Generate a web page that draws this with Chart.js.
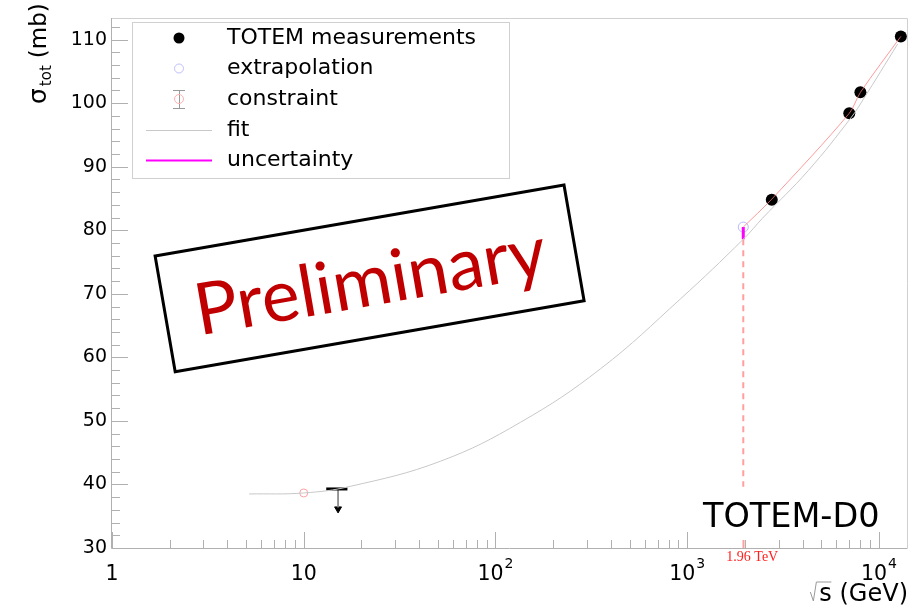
<!DOCTYPE html>
<html>
<head>
<meta charset="utf-8">
<script src="https://cdn.jsdelivr.net/npm/chart.js@4.4.0/dist/chart.umd.min.js"></script>
<style>
html,body{margin:0;padding:0;background:#fff}
</style>
</head>
<body>
<canvas id="chart" width="914" height="606"></canvas>
<script>
// values (sqrt(s) in GeV, sigma_tot in mb)
var totemEnergy = [2760, 7000, 8000, 13000];
var totemSigma = [84.8, 98.4, 101.7, 110.5];

var extrapEnergy = [1960];
var extrapSigma = [80.5];
var uncertLow = [78.6];
var dashLow = [39.65];

var constraintEnergy = [10];
var constraintSigma = [38.66];

var limitEnergy = [13.1, 16.9];
var limitSigma = [39.29, 39.29];
var arrowEnergy = [15.1, 15.1];
var arrowSigma = [39.29, 36.4];
var arrowHead = [36.15];

var fitEnergy = [5.19, 10, 17.5, 51.6, 135, 353, 925, 1966, 2470, 4284, 7184, 8302, 12524];
var fitSigma = [38.50, 38.66, 39.70, 43.65, 49.78, 58.2, 69.24, 78.62, 81.9, 89.41, 97.8, 100.65, 109.32];

var bandEnergy = [1960, 2760, 7000, 8000, 13000];
var bandSigma = [80.5, 84.9, 98.4, 101.7, 110.5];

var xTicks = [1, 10, 100, 1000, 10000];
var xTickBase = ['1', '10', '10', '10', '10'];
var xTickExp = ['', '', '2', '3', '4'];
var yTicks = [30, 40, 50, 60, 70, 80, 90, 100, 110];

var legendLabels = ['TOTEM measurements', 'extrapolation', 'constraint', 'fit', 'uncertainty'];

function pts(xs, ys) {
    return xs.map(function (x, i) { return {x: x, y: ys[i]}; });
}

var sansFont = "'DejaVu Sans', sans-serif";

// frame, ticks inside the frame, titles, legend, stamp
var decorations = {
    id: 'decorations',
    beforeDatasetsDraw: function (chart) {
        var c = chart.ctx, a = chart.chartArea;
        var xs = chart.scales.x, ys = chart.scales.y;
        c.save();
        c.lineWidth = 1;
        c.strokeStyle = '#d0d0d0';
        c.beginPath();
        c.moveTo(a.left, a.top + 0.5); c.lineTo(a.right + 0.5, a.top + 0.5); c.lineTo(a.right + 0.5, a.bottom);
        c.stroke();
        c.strokeStyle = '#b0b0b0';
        c.beginPath();
        c.moveTo(a.left - 0.5, a.top); c.lineTo(a.left - 0.5, a.bottom + 0.5); c.lineTo(a.right + 0.5, a.bottom + 0.5);
        c.stroke();
        // y ticks every 2 mb
        c.beginPath();
        for (var v = 30; v <= 113; v += 2) {
            var py = Math.round(ys.getPixelForValue(v)) + 0.5;
            var len = (v % 10 === 0) ? 16 : 8;
            c.moveTo(a.left, py); c.lineTo(a.left + len, py);
        }
        // x ticks
        for (var d = 1; d <= 10000; d *= 10) {
            for (var k = 1; k <= 9; k++) {
                var val = d * k;
                if (val > 14000) break;
                var px = Math.round(xs.getPixelForValue(val)) + 0.5;
                var l2 = (k === 1) ? 16 : 8;
                c.moveTo(px, a.bottom); c.lineTo(px, a.bottom - l2);
            }
        }
        c.stroke();
        // red mark at 1.96 TeV
        var pr = Math.round(xs.getPixelForValue(extrapEnergy[0])) + 0.5;
        c.strokeStyle = '#ff9f9f';
        c.lineWidth = 2;
        c.beginPath(); c.moveTo(pr, a.bottom); c.lineTo(pr, a.bottom - 8); c.stroke();
        c.restore();
    },
    afterDraw: function (chart) {
        var c = chart.ctx, a = chart.chartArea;
        var xs = chart.scales.x, ys = chart.scales.y;
        c.save();

        // x tick labels with real superscripts
        c.fillStyle = '#000';
        c.textBaseline = 'alphabetic';
        c.textAlign = 'left';
        xTicks.forEach(function (v, i) {
            c.font = '20.5px ' + sansFont;
            var wb = c.measureText(xTickBase[i]).width;
            c.font = '14px ' + sansFont;
            var we = xTickExp[i] ? c.measureText(xTickExp[i]).width + 1 : 0;
            var x0 = xs.getPixelForValue(v) - (wb + we) / 2;
            c.font = '20.5px ' + sansFont;
            c.fillText(xTickBase[i], x0, 580);
            if (xTickExp[i]) {
                c.font = '14px ' + sansFont;
                c.fillText(xTickExp[i], x0 + wb + 1, 568);
            }
        });

        // y title
        c.save();
        c.translate(46, 104);
        c.rotate(-Math.PI / 2);
        c.fillStyle = '#000';
        c.textBaseline = 'alphabetic';
        c.font = '25px ' + sansFont;
        c.fillText('\u03C3', 0, 0);
        var w = c.measureText('\u03C3').width;
        c.font = '15px ' + sansFont;
        c.fillText('tot', w + 2, 5);
        var w2 = c.measureText('tot').width;
        c.font = '23px ' + sansFont;
        c.fillText('(mb)', w + w2 + 9, 0);
        c.restore();

        // x title
        c.fillStyle = '#000';
        c.font = '24px ' + sansFont;
        c.textAlign = 'right';
        c.textBaseline = 'alphabetic';
        c.fillText('s (GeV)', a.right + 1, 601);
        var sw = c.measureText('s (GeV)').width;
        var sx = a.right + 1 - sw;
        c.strokeStyle = '#999';
        c.lineWidth = 1;
        c.beginPath();
        c.moveTo(sx - 9, 592); c.lineTo(sx - 6, 601); c.lineTo(sx - 3, 582); c.lineTo(sx + 12, 582);
        c.stroke();

        // 1.96 TeV
        c.fillStyle = '#ff2020';
        c.font = "14px 'Liberation Serif', serif";
        c.textAlign = 'center';
        c.textBaseline = 'middle';
        c.fillText('1.96 TeV', xs.getPixelForValue(extrapEnergy[0]) + 9, 557);

        // TOTEM-D0
        c.fillStyle = '#000';
        c.font = '33.5px ' + sansFont;
        c.textAlign = 'left';
        c.textBaseline = 'alphabetic';
        c.fillText('TOTEM-D0', 703, 527);

        // legend box
        c.fillStyle = '#fff';
        c.fillRect(132.5, 22.5, 377, 156);
        c.strokeStyle = '#d0d0d0';
        c.lineWidth = 1;
        c.strokeRect(132.5, 22.5, 377, 156);
        var rows = [38, 68.5, 99, 130, 160.5];
        var mx = 179;
        c.fillStyle = '#000';
        c.beginPath(); c.arc(mx, rows[0], 5.5, 0, Math.PI * 2); c.fill();
        c.strokeStyle = '#c0c0ff';
        c.beginPath(); c.arc(mx, rows[1], 4.5, 0, Math.PI * 2); c.stroke();
        c.strokeStyle = '#999';
        c.beginPath();
        c.moveTo(mx - 6, rows[2] - 8.5); c.lineTo(mx + 6, rows[2] - 8.5);
        c.moveTo(mx - 6, rows[2] + 9.5); c.lineTo(mx + 6, rows[2] + 9.5);
        c.moveTo(mx + 0.5, rows[2] - 8.5); c.lineTo(mx + 0.5, rows[2] + 9.5);
        c.stroke();
        c.strokeStyle = '#ffb0b0';
        c.beginPath(); c.arc(mx, rows[2], 4.5, 0, Math.PI * 2); c.stroke();
        c.strokeStyle = '#c8c8c8';
        c.beginPath(); c.moveTo(146, rows[3] + 0.5); c.lineTo(212, rows[3] + 0.5); c.stroke();
        c.strokeStyle = '#ff00ff';
        c.lineWidth = 2;
        c.beginPath(); c.moveTo(146, rows[4]); c.lineTo(212, rows[4]); c.stroke();
        c.fillStyle = '#000';
        c.font = '22px ' + sansFont;
        c.textBaseline = 'middle';
        c.textAlign = 'left';
        legendLabels.forEach(function (t, i) { c.fillText(t, 227, rows[i]); });

        // Preliminary stamp
        c.save();
        c.translate(369.6, 278.4);
        c.rotate(-9.85 * Math.PI / 180);
        c.fillStyle = '#fff';
        c.fillRect(-207.5, -58.7, 415, 117.4);
        c.strokeStyle = '#000';
        c.lineWidth = 3;
        c.strokeRect(-207.5, -58.7, 415, 117.4);
        c.fillStyle = '#c00000';
        c.font = "72px Lato, 'Open Sans', sans-serif";
        c.textAlign = 'center';
        c.textBaseline = 'middle';
        c.fillText('Preliminary', 0, 4);
        c.restore();

        c.restore();
    }
};

var ctx = document.getElementById('chart').getContext('2d');
var myChart = new Chart(ctx, {
    type: 'scatter',
    data: {
        datasets: [
            {label: 'fit', data: pts(fitEnergy, fitSigma), showLine: true, borderColor: '#c8c8c8', borderWidth: 1, pointRadius: 0, tension: 0.4},
            {label: 'fit through data', data: pts(bandEnergy, bandSigma), showLine: true, borderColor: 'rgba(255,120,120,0.75)', borderWidth: 1, pointRadius: 0, tension: 0.3},
            {label: 'projection', data: pts([extrapEnergy[0], extrapEnergy[0]], [uncertLow[0], dashLow[0]]), showLine: true, borderColor: '#ff9f9f', borderWidth: 2, borderDash: [6, 5], pointRadius: 0},
            {label: 'uncertainty', data: pts([extrapEnergy[0], extrapEnergy[0]], [extrapSigma[0], uncertLow[0]]), showLine: true, borderColor: '#ff00ff', borderWidth: 3, pointRadius: 0},
            {label: 'extrapolation', data: pts(extrapEnergy, extrapSigma), pointRadius: 5, pointBackgroundColor: 'rgba(0,0,0,0)', pointBorderColor: '#b8b8ff', pointBorderWidth: 1},
            {label: 'constraint', data: pts(constraintEnergy, constraintSigma), pointRadius: 4, pointBackgroundColor: 'rgba(0,0,0,0)', pointBorderColor: '#ffa0a0', pointBorderWidth: 1},
            {label: 'limit', data: pts(limitEnergy, limitSigma), showLine: true, borderColor: '#000', borderWidth: 3, pointRadius: 0},
            {label: 'limit arrow', data: pts(arrowEnergy, arrowSigma), showLine: true, borderColor: '#888', borderWidth: 1, pointRadius: 0},
            {label: 'arrow head', data: pts([arrowEnergy[0]], arrowHead), pointStyle: 'triangle', rotation: 180, pointRadius: 4, pointBackgroundColor: '#000', pointBorderColor: '#000', pointBorderWidth: 1},
            {label: 'TOTEM measurements', data: pts(totemEnergy, totemSigma), pointRadius: 6, pointBackgroundColor: '#000', pointBorderColor: '#000', pointBorderWidth: 0}
        ]
    },
    options: {
        responsive: false,
        animation: false,
        layout: {padding: {top: 18, right: 7, left: 0, bottom: 0}},
        plugins: {legend: {display: false}, tooltip: {enabled: false}},
        scales: {
            x: {
                type: 'logarithmic',
                min: 1,
                max: 14000,
                grid: {display: false, drawTicks: false},
                border: {display: false},
                afterBuildTicks: function (s) { s.ticks = xTicks.map(function (v) { return {value: v}; }); },
                afterFit: function (s) { s.height = 58; },
                ticks: {display: false}
            },
            y: {
                min: 30,
                max: 113.4,
                grid: {display: false, drawTicks: false},
                border: {display: false},
                afterBuildTicks: function (s) { s.ticks = yTicks.map(function (v) { return {value: v}; }); },
                afterFit: function (s) { s.width = 112; },
                ticks: {
                    padding: 5,
                    color: '#000',
                    font: {family: 'DejaVu Sans', size: 19}
                }
            }
        }
    },
    plugins: [decorations]
});
</script>
</body>
</html>
